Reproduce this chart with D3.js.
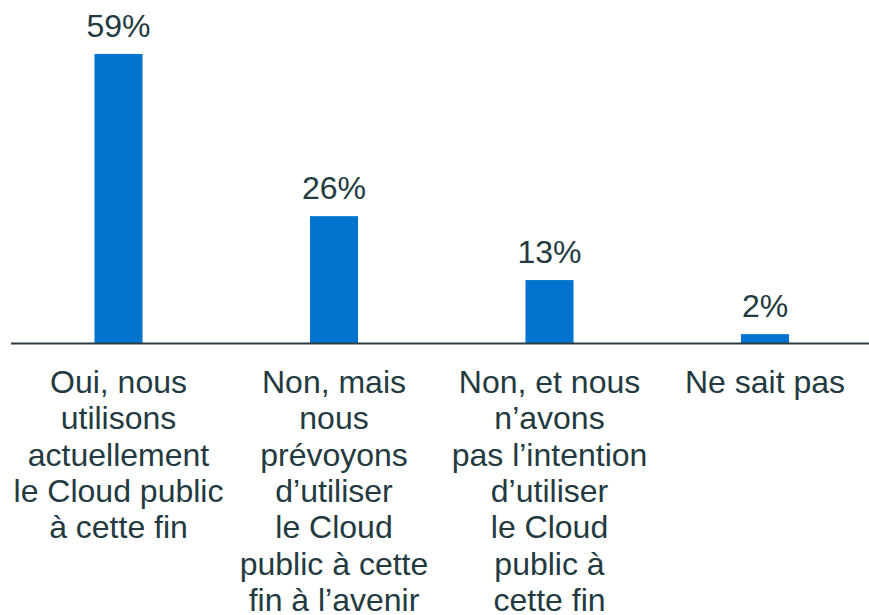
<!DOCTYPE html>
<html><head><meta charset="utf-8">
<script src="https://cdn.jsdelivr.net/npm/d3@7"></script>
<style>body{margin:0;background:#fff}svg{display:block}</style>
</head><body>
<script>
const categories = [
  ["Oui, nous", "utilisons", "actuellement", "le Cloud public", "à cette fin"],
  ["Non, mais", "nous", "prévoyons", "d’utiliser", "le Cloud", "public à cette", "fin à l’avenir"],
  ["Non, et nous", "n’avons", "pas l’intention", "d’utiliser", "le Cloud", "public à", "cette fin"],
  ["Ne sait pas"]
];
const values = [59, 26, 13, 2];
const valueLabels = ["59%", "26%", "13%", "2%"];

const W = 869, H = 615;
const svg = d3.select("body").append("svg").attr("width", W).attr("height", H);
const font = "'Liberation Sans', Arial, sans-serif";
const textColor = "#233a40";

const x = d3.scaleBand().domain(d3.range(values.length)).range([10.75, 872.75])
  .paddingInner(0.777).paddingOuter(0.3885);
const y = d3.scaleLinear().domain([0, 60]).range([344, 49]);

svg.selectAll("rect.bar").data(values).join("rect")
  .attr("class", "bar")
  .attr("x", (d, i) => x(i))
  .attr("width", x.bandwidth())
  .attr("y", d => y(d))
  .attr("height", d => y(0) - y(d))
  .attr("fill", "#0273cf");

svg.append("line")
  .attr("x1", 11).attr("x2", W)
  .attr("y1", y(0) - 0.5).attr("y2", y(0) - 0.5)
  .attr("stroke", "#2a3c42").attr("stroke-width", 2);

svg.selectAll("text.val").data(values).join("text")
  .attr("class", "val")
  .attr("x", (d, i) => x(i) + x.bandwidth() / 2)
  .attr("y", d => y(d) - 17)
  .attr("text-anchor", "middle")
  .attr("font-family", font).attr("font-size", 32)
  .attr("fill", textColor)
  .text((d, i) => valueLabels[i]);

const cat = svg.selectAll("text.cat").data(categories).join("text")
  .attr("class", "cat")
  .attr("text-anchor", "middle")
  .attr("font-family", font).attr("font-size", 32)
  .attr("fill", textColor);
cat.each(function(lines, i) {
  d3.select(this).selectAll("tspan").data(lines).join("tspan")
    .attr("x", x(i) + x.bandwidth() / 2)
    .attr("y", (d, j) => 393 + j * 36.3)
    .text(d => d);
});
</script>
</body></html>
